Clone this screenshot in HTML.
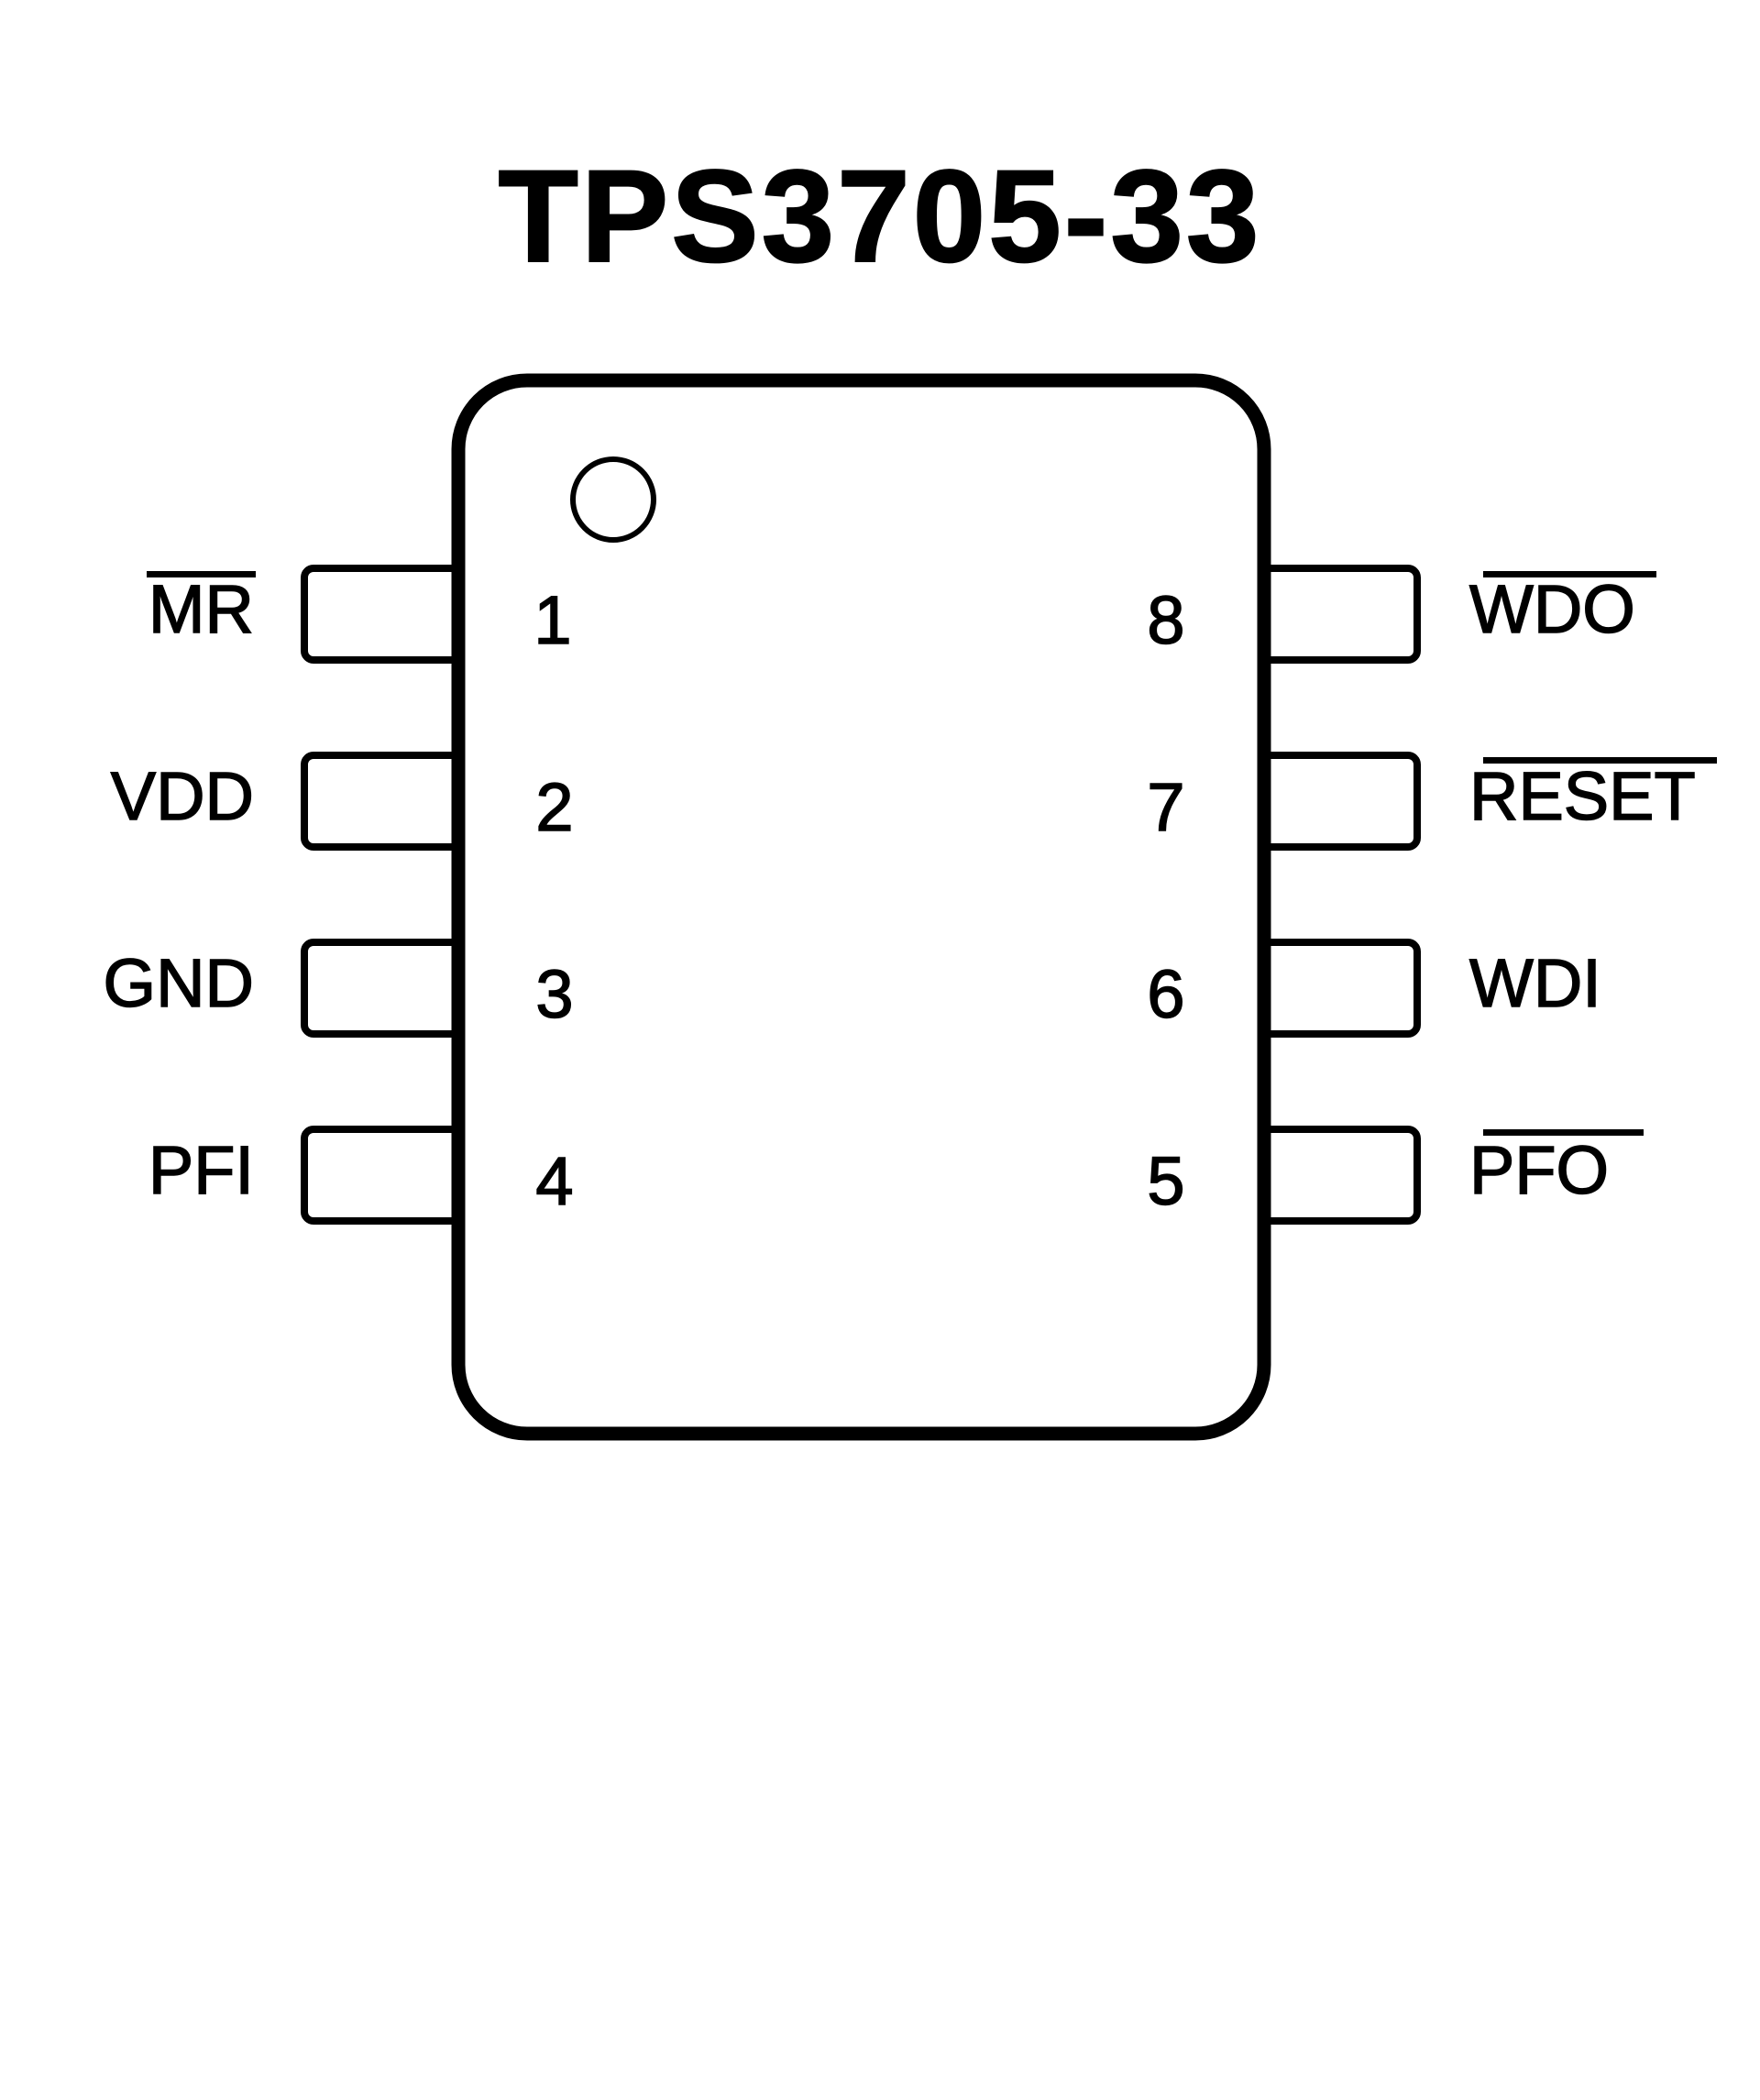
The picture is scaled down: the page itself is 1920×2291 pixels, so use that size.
<!DOCTYPE html>
<html><head><meta charset="utf-8"><style>
html,body{margin:0;padding:0;background:#fff;}
svg{display:block;}
</style></head><body>
<svg width="1920" height="2291" viewBox="0 0 1920 2291" xmlns="http://www.w3.org/2000/svg">
<rect width="1920" height="2291" fill="#fff"/>
<text x="960" y="285" text-anchor="middle" font-family="'Liberation Sans', sans-serif" font-weight="bold" font-size="143" letter-spacing="3" fill="#000" stroke="#000" stroke-width="2">TPS3705-33</text>
<g fill="#fff" stroke="#000" stroke-width="8">
<rect x="332" y="620" width="170" height="100" rx="10"/>
<rect x="332" y="824" width="170" height="100" rx="10"/>
<rect x="332" y="1028" width="170" height="100" rx="10"/>
<rect x="332" y="1232" width="170" height="100" rx="10"/>
<rect x="1376" y="620" width="170" height="100" rx="10"/>
<rect x="1376" y="824" width="170" height="100" rx="10"/>
<rect x="1376" y="1028" width="170" height="100" rx="10"/>
<rect x="1376" y="1232" width="170" height="100" rx="10"/>
</g>
<rect x="500" y="415" width="879" height="1149" rx="75" fill="#fff" stroke="#000" stroke-width="15"/>
<circle cx="669" cy="545" r="44" fill="none" stroke="#000" stroke-width="6"/>
<g font-family="'Liberation Sans', sans-serif" font-size="74" fill="#000" stroke="#000" stroke-width="1.5">
<text x="277" y="690" text-anchor="end">MR</text>
<text x="277" y="894" text-anchor="end">VDD</text>
<text x="277" y="1098" text-anchor="end">GND</text>
<text x="277" y="1302" text-anchor="end">PFI</text>
<text x="1603" y="690">WDO</text>
<text x="1603" y="894">RESET</text>
<text x="1603" y="1098">WDI</text>
<text x="1603" y="1302">PFO</text>
</g>
<g font-family="'Liberation Sans', sans-serif" font-size="74" fill="#000" stroke="#000" stroke-width="1.5" text-anchor="middle">
<text x="603" y="702">1</text>
<text x="605" y="906">2</text>
<text x="605" y="1110">3</text>
<text x="605" y="1314">4</text>
<text x="1272" y="702">8</text>
<text x="1272" y="906">7</text>
<text x="1272" y="1110">6</text>
<text x="1272" y="1314">5</text>
</g>
<g fill="#000">
<rect x="160" y="623" width="119" height="7"/>
<rect x="1618" y="623" width="189" height="7"/>
<rect x="1618" y="826" width="255" height="7"/>
<rect x="1618" y="1232" width="175" height="7"/>
</g>
</svg>
</body></html>
